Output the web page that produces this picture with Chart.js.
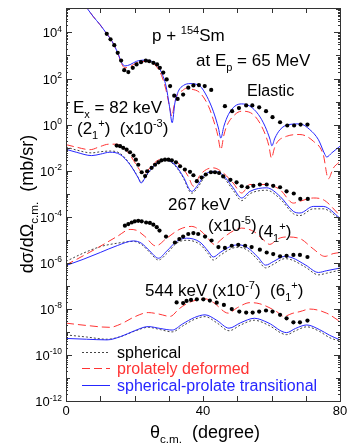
<!DOCTYPE html>
<html>
<head>
<meta charset="utf-8">
<script src="https://cdn.jsdelivr.net/npm/chart.js@4.4.1/dist/chart.umd.min.js"></script>
<style>
  body { margin: 0; background: #fff; }
  canvas { display: block; }
</style>
</head>
<body>
<canvas id="grafico" width="349" height="444"></canvas>
<script>
// --- datos (angulos en grados, secciones eficaces en mb/sr, ya escaladas) ---

// elastico
const elasticBlueX = [5, 6.4, 8, 9.9, 11.9, 13.5, 15.3, 16.2, 17.2, 18.7, 20.6, 23.1, 25, 26.5, 27.9, 29.2, 30.2, 31, 31.8, 32.8, 34.3, 36.2, 39.1, 41.1, 43, 44.5, 45.2, 46.1, 47.4, 49.3, 51.3, 53.7, 56.2, 58.1, 59.6, 60.1, 61, 62.5, 64.9, 68.3, 71.2, 73.7, 75.6, 76.1, 77.6, 80];
const elasticBlue = [1.9e5, 1.0e5, 4.8e4, 2.2e4, 8.7e3, 4.0e3, 1.1e3, 5.0e2, 3.5e2, 4.0e2, 5.6e2, 6.3e2, 5.6e2, 4.1e2, 1.8e2, 47, 6.3, 1.2, 8.7, 28, 50, 60, 47, 17, 3.8, 0.71, 0.26, 0.85, 2.7, 6.3, 7.9, 6.3, 2.7, 0.85, 0.22, 0.12, 0.26, 0.60, 1.0, 1.07, 0.60, 0.22, 0.050, 0.039, 0.059, 0.115];
const elasticRedX = [5, 6.4, 8, 9.9, 11.9, 13.5, 15.3, 16.2, 17.2, 18.7, 20.6, 23.1, 25, 26.5, 27.9, 29.2, 30.2, 30.9, 31.6, 32.3, 34, 35.2, 36.5, 39.1, 41.6, 43, 44.3, 45.2, 46.1, 46.9, 49.3, 51.3, 54.7, 57.6, 59.2, 60, 60.8, 61.5, 64.4, 68.3, 72.2, 75.1, 76.6, 78, 80];
const elasticRed = [1.9e5, 1.0e5, 4.8e4, 2.2e4, 8.7e3, 4.0e3, 1.07e3, 4.5e2, 2.9e2, 3.3e2, 4.8e2, 5.5e2, 4.8e2, 3.2e2, 1.35e2, 32, 6.3, 2.3, 7.1, 17, 30, 38, 35, 24, 6.3, 1.66, 0.35, 0.081, 0.35, 0.85, 2.7, 3.8, 2.7, 0.60, 0.126, 0.035, 0.089, 0.158, 0.31, 0.37, 0.19, 0.050, 0.0044, 0.0126, 0.025];
const elasticExpX = [11.9, 13, 14.1, 15.1, 16.1, 17, 18.2, 19.5, 20.6, 21.9, 23.3, 24.3, 25.5, 26.6, 27.4, 28.4, 29.4, 30.4, 31.6, 32.6, 34.2, 35.7, 37.2, 38.8, 40.5, 42.4, 46.4, 48.5, 50.5, 52.6, 54.4, 56.4, 58.4, 60.3, 62.5, 64.6, 66.6, 68.5, 70.5];
const elasticExp = [8.7e3, 5.0e3, 2.8e3, 1.3e3, 6.0e2, 2.3e2, 1.9e2, 2.9e2, 4.1e2, 5.1e2, 6.0e2, 5.6e2, 4.8e2, 4.1e2, 2.9e2, 1.8e2, 91, 47, 18, 13, 20, 40, 50, 52, 47, 32, 6.3, 3.8, 5.2, 6.8, 6.8, 5.6, 3.8, 2.1, 1.26, 0.91, 0.91, 1.0, 1.0];

// 2+ (x10^-3)
const state2X = [0, 3, 7.5, 10, 12.8, 15.8, 18.7, 21.1, 21.9, 23.6, 26, 28.9, 31.8, 34.2, 36.7, 38.6, 40.6, 43, 45.5, 48.8, 51.3, 53.7, 58.6, 62.5, 66.4, 68.3, 72.2, 75.1, 80];
const state2Blue = [0.085, 0.063, 0.045, 0.052, 0.063, 0.050, 0.018, 0.0048, 0.0029, 0.0068, 0.018, 0.030, 0.018, 0.0056, 0.00126, 0.0025, 0.0068, 0.0093, 0.0071, 0.0018, 6.5e-4, 1.26e-3, 1.8e-3, 7.6e-4, 1.7e-4, 1.45e-4, 2.8e-4, 2.8e-4, 8.7e-5];
const state2Dotted = [0.107, 0.079, 0.059, 0.066, 0.071, 0.056, 0.019, 0.0050, 0.0032, 0.0063, 0.0174, 0.028, 0.0166, 0.0050, 0.00105, 0.0020, 0.0056, 0.0079, 0.0060, 0.00141, 5.0e-4, 1.0e-3, 1.41e-3, 6.0e-4, 1.35e-4, 1.12e-4, 2.2e-4, 2.2e-4, 7.6e-5];
const state2RedX = [0, 3, 7, 10, 12.5, 14.8, 18.2, 21.1, 22.6, 24.5, 27.4, 30.4, 33.3, 35.7, 37.2, 39.1, 41, 43, 45.5, 48.8, 51.3, 53.7, 58.6, 62.5, 66.4, 68.3, 72.2, 75.1, 80];
const state2Red = [0.135, 0.105, 0.081, 0.112, 0.141, 0.141, 0.059, 0.0132, 0.0068, 0.0132, 0.030, 0.030, 0.018, 0.0056, 0.0021, 0.0063, 0.0112, 0.0132, 0.0089, 0.0029, 0.00107, 0.0025, 0.0025, 0.00148, 3.9e-4, 4.7e-4, 6.5e-4, 5.5e-4, 1.12e-4];
const state2ExpX = [14.8, 15.8, 16.7, 17.7, 18.7, 19.7, 20.4, 21.1, 22.1, 23.1, 23.7, 25, 26, 27, 27.9, 28.9, 29.9, 30.9, 32.1, 33.3, 34.7, 36.2, 37.2, 38.2, 39.6, 40.8, 42.3, 43.5, 44.7, 45.9, 48, 49.8, 51.3, 53, 54.7, 56.6, 58.6, 60.5, 62.5, 64.4, 66.5, 68.4, 70.6];
const state2Exp = [0.123, 0.115, 0.098, 0.081, 0.063, 0.045, 0.030, 0.018, 0.0085, 0.0058, 0.0093, 0.0132, 0.018, 0.023, 0.028, 0.030, 0.030, 0.028, 0.023, 0.0155, 0.0112, 0.0089, 0.0063, 0.0035, 0.0050, 0.0068, 0.0085, 0.0085, 0.0079, 0.0056, 0.0040, 0.0031, 0.0021, 0.0019, 0.0022, 0.0025, 0.0025, 0.0022, 0.0019, 0.00126, 0.00102, 5.9e-4, 5.9e-4];

// 4+ (x10^-5)
const state4X = [0, 5, 10, 15, 19.7, 22, 24.5, 27, 29.4, 32.3, 35.2, 39.1, 41.5, 43, 45, 48.4, 50.5, 53, 56, 58.3, 60.5, 63.9, 66, 70, 73.7, 76, 80];
const state4Blue = [7.6e-7, 1.41e-6, 2.8e-6, 5.6e-6, 8.9e-6, 7.1e-6, 3.2e-6, 1.58e-6, 3.2e-6, 8.5e-6, 1.17e-5, 7.9e-6, 3.2e-6, 1.78e-6, 2.8e-6, 5.4e-6, 6.0e-6, 4.5e-6, 1.78e-6, 7.9e-7, 1.12e-6, 1.9e-6, 1.66e-6, 7.9e-7, 3.8e-7, 4.5e-7, 5.9e-7];
const state4Dotted = [1.15e-6, 2.6e-6, 5.0e-6, 7.1e-6, 8.5e-6, 6.3e-6, 2.8e-6, 1.32e-6, 2.5e-6, 7.1e-6, 9.5e-6, 6.3e-6, 2.5e-6, 1.32e-6, 2.1e-6, 4.2e-6, 4.7e-6, 3.5e-6, 1.35e-6, 6.0e-7, 8.5e-7, 1.51e-6, 1.32e-6, 6.3e-7, 3.0e-7, 3.5e-7, 4.8e-7];
const state4RedX = [0, 5, 9.9, 15, 18.7, 20.5, 23, 26.2, 29.4, 33.3, 36.7, 39.1, 41, 43.3, 46, 49, 51.3, 55, 57.6, 59.5, 62, 64.4, 68.3, 72.2, 75.6, 78, 80];
const state4Red = [8.1e-7, 2.0e-6, 5.1e-6, 1.41e-5, 2.8e-5, 2.6e-5, 1.41e-5, 5.4e-6, 1.17e-5, 2.9e-5, 3.8e-5, 2.6e-5, 1.41e-5, 6.3e-6, 1.26e-5, 2.5e-5, 3.2e-5, 2.2e-5, 1.0e-5, 6.3e-6, 1.12e-5, 1.32e-5, 1.12e-5, 4.0e-6, 1.9e-6, 2.5e-6, 2.8e-6];
const state4ExpX = [17.2, 18.2, 19.2, 20.1, 21.1, 22.1, 23.4, 24.5, 25.5, 26.5, 27.3, 29.2, 31.8, 33.1, 34.2, 35.7, 37.2, 38.6, 40.6, 42.5, 44.5, 46.4, 48.4, 50.3, 52.3, 54.2, 56.6, 58.6, 60.5, 62.5, 64.4, 66.4, 68.3, 70.5];
const state4Exp = [4.1e-5, 4.8e-5, 5.6e-5, 6.3e-5, 6.6e-5, 6.3e-5, 5.6e-5, 5.4e-5, 4.5e-5, 3.5e-5, 2.5e-5, 1.38e-5, 7.6e-6, 1.07e-5, 1.38e-5, 1.78e-5, 1.95e-5, 1.78e-5, 1.38e-5, 9.3e-6, 4.8e-6, 4.4e-6, 5.5e-6, 6.0e-6, 5.5e-6, 4.8e-6, 3.7e-6, 2.8e-6, 2.4e-6, 1.9e-6, 2.0e-6, 2.2e-6, 2.2e-6, 1.78e-6];

// 6+ (x10^-7)
const state6X = [0, 6, 12, 16, 20, 24, 27.5, 31, 34, 37.5, 40.6, 44, 47.6, 51, 55, 59, 64.4, 67, 70.3, 74, 77, 80];
const state6Blue = [5.2e-10, 4.8e-10, 4.5e-10, 6.3e-10, 1.12e-9, 1.7e-9, 1.41e-9, 1.2e-9, 2.2e-9, 4.2e-9, 5.5e-9, 3.2e-9, 1.45e-9, 2.5e-9, 3.9e-9, 2.5e-9, 9.3e-10, 1.41e-9, 2.0e-9, 1.26e-9, 7.1e-10, 4.5e-10];
const state6Dotted = [7.4e-10, 6.0e-10, 4.8e-10, 6.3e-10, 1.07e-9, 1.58e-9, 1.26e-9, 1.0e-9, 1.78e-9, 3.5e-9, 4.6e-9, 2.5e-9, 1.12e-9, 2.0e-9, 3.2e-9, 2.0e-9, 7.6e-10, 1.12e-9, 1.66e-9, 1.05e-9, 5.6e-10, 4.0e-10];
const state6RedX = [0, 6, 12.8, 16, 20, 24, 27, 30.4, 33, 35.2, 38, 40.6, 43, 47.4, 50, 53.7, 56.6, 61.5, 63.6, 66, 68.3, 71.2, 76.1, 80];
const state6Red = [2.4e-9, 1.9e-9, 1.58e-9, 2.2e-9, 4.5e-9, 6.9e-9, 6.0e-9, 4.7e-9, 1.0e-8, 1.66e-8, 2.4e-8, 2.75e-8, 1.9e-8, 6.5e-9, 1.12e-8, 1.86e-8, 1.66e-8, 7.6e-9, 4.7e-9, 6.3e-9, 7.6e-9, 9.8e-9, 6.5e-9, 2.8e-9];
const state6ExpX = [32.3, 34.2, 35.2, 36.5, 38.2, 40.1, 42, 44, 46.1, 48.4, 50.6, 52.6, 54.5, 56.4, 58.4, 60.3, 62.5, 64.4, 66.4, 68.3, 70.5];
const state6Exp = [1.9e-8, 1.78e-8, 2.2e-8, 2.45e-8, 2.6e-8, 2.6e-8, 2.3e-8, 1.86e-8, 1.48e-8, 9.8e-9, 7.6e-9, 6.9e-9, 6.9e-9, 7.6e-9, 8.5e-9, 7.6e-9, 5.5e-9, 3.9e-9, 2.6e-9, 2.6e-9, 3.1e-9];

// ejes
const xTickValues = [0, 10, 20, 30, 40, 50, 60, 70, 80];
const xTickLabels = ['0', '', '', '', '40', '', '', '', '80'];
const yLabelExponents = [4, 2, 0, -2, -4, -6, -8, -10, -12];

const legendLabels = ['spherical', 'prolately deformed', 'spherical-prolate transitional'];

const FUENTE = '"Liberation Sans", Arial, sans-serif';
const COLOR_ESF = '#444444';
const COLOR_DEF = '#ff3333';
const COLOR_TRA = '#2626ff';

function puntos(xs, ys) {
    return xs.map((x, i) => ({ x: x, y: ys[i] }));
}

function curvaEsferica(xs, ys) {
    return { data: puntos(xs, ys), showLine: true, borderColor: COLOR_ESF, borderWidth: 1, borderDash: [2, 2],
             pointRadius: 0, cubicInterpolationMode: 'monotone', order: 3 };
}
function curvaDeformada(xs, ys) {
    return { data: puntos(xs, ys), showLine: true, borderColor: COLOR_DEF, borderWidth: 1, borderDash: [8, 4],
             pointRadius: 0, cubicInterpolationMode: 'monotone', order: 2 };
}
function curvaTransicion(xs, ys) {
    return { data: puntos(xs, ys), showLine: true, borderColor: COLOR_TRA, borderWidth: 1,
             pointRadius: 0, cubicInterpolationMode: 'monotone', order: 1 };
}
function datosExp(xs, ys) {
    return { data: puntos(xs, ys), showLine: false, pointRadius: 2.1, pointBackgroundColor: '#000',
             pointBorderWidth: 0, order: 0 };
}

// texto con subindices y superindices
function textoRico(ctx, x, y, partes, size, color) {
    ctx.fillStyle = color;
    ctx.textBaseline = 'alphabetic';
    ctx.textAlign = 'left';
    let cx = x;
    partes.forEach(p => {
        let s = size, dy = 0;
        if (p.sup) { s = size * 0.65; dy = -size * 0.42; }
        if (p.sub) { s = size * 0.65; dy = size * 0.28; }
        ctx.font = s + 'px ' + FUENTE;
        ctx.fillText(p.t, cx, y + dy);
        cx += ctx.measureText(p.t).width;
    });
    return cx - x;
}
function anchoRico(ctx, partes, size) {
    let w = 0;
    partes.forEach(p => {
        const s = (p.sup || p.sub) ? size * 0.65 : size;
        ctx.font = s + 'px ' + FUENTE;
        w += ctx.measureText(p.t).width;
    });
    return w;
}

const ejesYTextos = {
    id: 'ejesYTextos',
    afterDraw(chart) {
        const ctx = chart.ctx;
        const a = chart.chartArea;
        const xs = chart.scales.x;
        const ys = chart.scales.y;
        ctx.save();
        ctx.strokeStyle = '#333';
        ctx.lineWidth = 1;
        ctx.setLineDash([]);
        ctx.strokeRect(Math.round(a.left) + 0.5, Math.round(a.top) + 0.5, Math.round(a.right - a.left), Math.round(a.bottom - a.top));

        // marcas del eje x
        ctx.beginPath();
        xTickValues.forEach(v => {
            const px = Math.round(xs.getPixelForValue(v)) + 0.5;
            ctx.moveTo(px, a.bottom); ctx.lineTo(px, a.bottom - 5);
            ctx.moveTo(px, a.top); ctx.lineTo(px, a.top + 5);
        });
        // marcas del eje y
        for (let e = -12; e <= 5; e++) {
            for (let m = 1; m <= 9; m++) {
                const v = m * Math.pow(10, e);
                if (v > ys.max) break;
                const py = Math.round(ys.getPixelForValue(v)) + 0.5;
                const largo = m === 1 ? (e % 2 === 0 ? 6 : 4) : 2;
                ctx.moveTo(a.left, py); ctx.lineTo(a.left + largo, py);
                ctx.moveTo(a.right, py); ctx.lineTo(a.right - largo, py);
            }
        }
        ctx.stroke();

        // etiquetas del eje x
        ctx.fillStyle = '#000';
        ctx.font = '13px ' + FUENTE;
        ctx.textAlign = 'center';
        ctx.textBaseline = 'alphabetic';
        xTickValues.forEach((v, i) => {
            if (xTickLabels[i]) ctx.fillText(xTickLabels[i], xs.getPixelForValue(v), 415);
        });

        // etiquetas del eje y
        yLabelExponents.forEach(e => {
            const py = ys.getPixelForValue(Math.pow(10, e));
            const partes = [{ t: '10' }, { t: String(e), sup: true }];
            const w = anchoRico(ctx, partes, 13);
            textoRico(ctx, a.left - 4 - w, py + 5, partes, 13, '#000');
        });

        // titulos de ejes
        const tituloX = [{ t: 'θ' }, { t: 'c.m.', sub: true }, { t: '  (degree)' }];
        const wx = anchoRico(ctx, tituloX, 18);
        textoRico(ctx, 205 - wx / 2, 438, tituloX, 18, '#000');

        const tituloY = [{ t: 'dσ/dΩ' }, { t: 'c.m.', sub: true }, { t: '  (mb/sr)' }];
        const wy = anchoRico(ctx, tituloY, 18);
        ctx.save();
        ctx.translate(33, 204);
        ctx.rotate(-Math.PI / 2);
        textoRico(ctx, -wy / 2, 0, tituloY, 18, '#000');
        ctx.restore();

        // anotaciones
        textoRico(ctx, 152, 41, [{ t: 'p + ' }, { t: '154', sup: true }, { t: 'Sm' }], 17, '#000');
        textoRico(ctx, 196, 66, [{ t: 'at E' }, { t: 'p', sub: true }, { t: ' = 65 MeV' }], 17, '#000');
        textoRico(ctx, 247, 96, [{ t: 'Elastic' }], 16, '#000');
        textoRico(ctx, 73, 113, [{ t: 'E' }, { t: 'x', sub: true }, { t: ' = 82 keV' }], 17, '#000');
        textoRico(ctx, 77, 134, [{ t: '(2' }, { t: '1', sub: true }, { t: '+', sup: true }, { t: ')  (x10' }, { t: '-3', sup: true }, { t: ')' }], 17, '#000');
        textoRico(ctx, 168, 210, [{ t: '267 keV' }], 17, '#000');
        textoRico(ctx, 208, 231, [{ t: '(x10' }, { t: '-5', sup: true }, { t: ')' }], 17, '#000');
        textoRico(ctx, 258, 237, [{ t: '(4' }, { t: '1', sub: true }, { t: '+', sup: true }, { t: ')' }], 17, '#000');
        textoRico(ctx, 145, 296, [{ t: '544 keV (x10' }, { t: '-7', sup: true }, { t: ')  (6' }, { t: '1', sub: true }, { t: '+', sup: true }, { t: ')' }], 17, '#000');

        // leyenda
        const estilos = [
            { color: COLOR_ESF, dash: [2, 2] },
            { color: COLOR_DEF, dash: [8, 4] },
            { color: COLOR_TRA, dash: [] }
        ];
        const filas = [352, 368, 385];
        legendLabels.forEach((txt, i) => {
            ctx.beginPath();
            ctx.strokeStyle = estilos[i].color;
            ctx.setLineDash(estilos[i].dash);
            ctx.moveTo(82, filas[i] + 0.5);
            ctx.lineTo(110, filas[i] + 0.5);
            ctx.stroke();
            ctx.setLineDash([]);
            textoRico(ctx, 117, filas[i] + 6, [{ t: txt }], 16, estilos[i].color === COLOR_ESF ? '#000' : estilos[i].color);
        });
        ctx.restore();
    }
};

new Chart(document.getElementById('grafico').getContext('2d'), {
    type: 'scatter',
    data: {
        datasets: [
            datosExp(elasticExpX, elasticExp),
            curvaTransicion(elasticBlueX, elasticBlue),
            curvaDeformada(elasticRedX, elasticRed),
            datosExp(state2ExpX, state2Exp),
            curvaTransicion(state2X, state2Blue),
            curvaDeformada(state2RedX, state2Red),
            curvaEsferica(state2X, state2Dotted),
            datosExp(state4ExpX, state4Exp),
            curvaTransicion(state4X, state4Blue),
            curvaDeformada(state4RedX, state4Red),
            curvaEsferica(state4X, state4Dotted),
            datosExp(state6ExpX, state6Exp),
            curvaTransicion(state6X, state6Blue),
            curvaDeformada(state6RedX, state6Red),
            curvaEsferica(state6X, state6Dotted)
        ]
    },
    options: {
        responsive: false,
        animation: false,
        layout: { padding: { left: 66, right: 9, top: 8, bottom: 43 } },
        plugins: { legend: { display: false }, tooltip: { enabled: false } },
        scales: {
            x: { type: 'linear', min: 0, max: 80, display: false },
            y: { type: 'logarithmic', min: 1e-12, max: 1.15e5, display: false }
        }
    },
    plugins: [ejesYTextos]
});
</script>
</body>
</html>
